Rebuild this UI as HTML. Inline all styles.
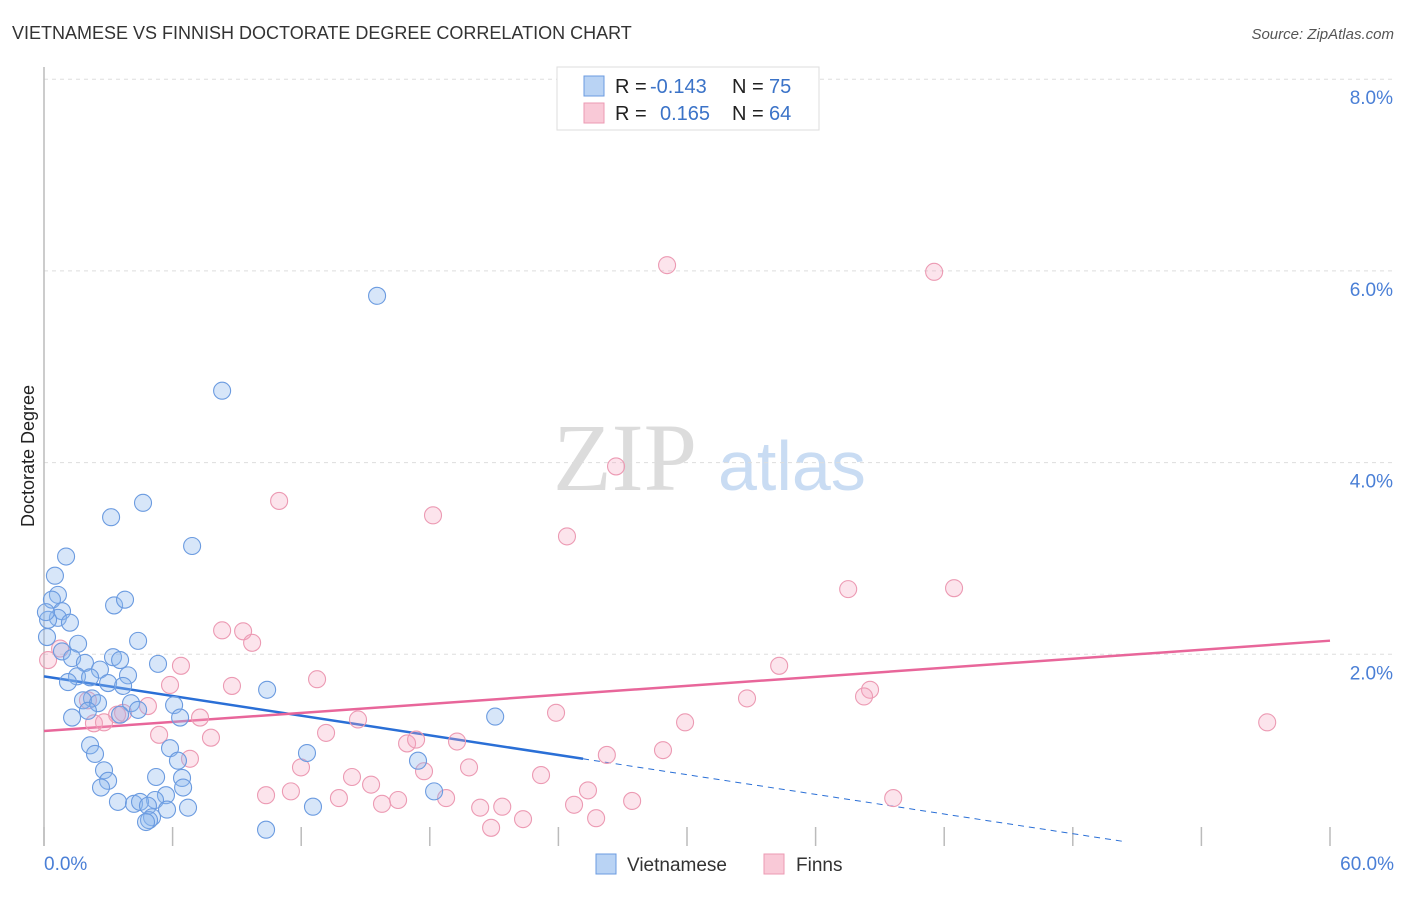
<!DOCTYPE html>
<html><head><meta charset="utf-8"><style>
body{margin:0;background:#fff;font-family:"Liberation Sans",sans-serif;}
</style></head><body>
<svg id="chart" width="1406" height="892" viewBox="0 0 1406 892" xmlns="http://www.w3.org/2000/svg">
<text x="12" y="39" font-size="18" fill="#333">VIETNAMESE VS FINNISH DOCTORATE DEGREE CORRELATION CHART</text>
<text x="1394" y="39" font-size="15" fill="#555" font-style="italic" text-anchor="end">Source: ZipAtlas.com</text>
<g>
<text x="553" y="490" font-size="96" font-family="Liberation Serif,serif" fill="#dcdcdc">ZIP</text>
<text x="718" y="490" font-size="70" fill="#c9dcf3">atlas</text>
</g>
<g id="grid"></g>
<line x1="44" y1="67" x2="44" y2="846" stroke="#bbb" stroke-width="1.5"/>
<text transform="translate(34,456) rotate(-90)" font-size="18" fill="#222" text-anchor="middle">Doctorate Degree</text>
<g id="ticks"></g>
<g id="trends"></g>
<g id="pts"></g>
<g>
<rect x="557" y="67" width="262" height="63" fill="#fff" stroke="#ddd"/>
<rect x="584" y="76" width="20" height="20" fill="#b9d3f4" stroke="#6b9be0"/>
<rect x="584" y="103" width="20" height="20" fill="#f9c9d7" stroke="#ec9ab3"/>
<text x="615" y="93" font-size="20" fill="#222">R =</text>
<text x="650" y="93" font-size="20" fill="#3b73c8">-0.143</text>
<text x="732" y="93" font-size="20" fill="#222">N =</text>
<text x="769" y="93" font-size="20" fill="#3b73c8">75</text>
<text x="615" y="120" font-size="20" fill="#222">R =</text>
<text x="660" y="120" font-size="20" fill="#3b73c8">0.165</text>
<text x="732" y="120" font-size="20" fill="#222">N =</text>
<text x="769" y="120" font-size="20" fill="#3b73c8">64</text>
</g>
<g>
<rect x="596" y="854" width="20" height="20" fill="#b9d3f4" stroke="#6b9be0"/>
<text x="627" y="871" font-size="19" fill="#333">Vietnamese</text>
<rect x="764" y="854" width="20" height="20" fill="#f9c9d7" stroke="#ec9ab3"/>
<text x="796" y="871" font-size="19" fill="#333">Finns</text>
</g>
</svg>
<script>
const xTicks=[0,6,12,18,24,30,36,42,48,54,60];
const yTicks=[2,4,6,8];
const xLabels=["0.0%","60.0%"];
const blueX=[15.54,8.31,4.62,3.13,6.91,1.03,0.51,0.65,0.37,0.84,3.27,3.78,0.65,0.19,1.21,0.14,4.39,1.59,0.84,1.31,1.91,3.22,3.55,5.32,2.61,3.92,1.54,2.15,1.12,2.99,3.69,10.41,2.24,1.82,2.52,4.06,6.07,2.05,4.39,1.31,6.35,21.05,3.55,2.15,5.88,2.38,12.27,17.45,6.25,2.80,5.23,6.44,2.99,2.66,6.49,18.20,5.69,5.18,3.45,4.20,4.48,4.85,6.72,12.55,5.74,5.04,4.90,4.76,10.36,0.09];
const blueY=[5.74,4.75,3.58,3.43,3.13,3.02,2.82,2.62,2.57,2.45,2.51,2.57,2.38,2.36,2.33,2.18,2.14,2.11,2.03,1.96,1.91,1.97,1.94,1.90,1.84,1.78,1.77,1.76,1.71,1.70,1.67,1.63,1.54,1.52,1.49,1.49,1.47,1.41,1.42,1.34,1.34,1.35,1.37,1.05,1.02,0.96,0.97,0.89,0.89,0.79,0.72,0.71,0.68,0.61,0.61,0.57,0.53,0.48,0.46,0.44,0.46,0.42,0.40,0.41,0.38,0.30,0.27,0.25,0.17,2.44];
const pinkX=[29.07,41.53,26.69,10.97,18.15,24.40,37.52,42.46,8.31,9.29,9.71,0.75,0.19,6.39,34.30,12.74,5.88,8.77,38.54,38.26,32.80,4.85,23.89,3.41,14.65,7.28,29.91,57.07,2.33,2.80,5.37,13.16,7.79,16.94,17.36,19.27,28.88,26.26,6.81,11.99,19.83,17.73,23.19,14.37,15.26,25.38,11.52,10.36,13.76,18.76,16.52,27.44,39.62,15.77,24.73,20.35,21.38,25.76,22.35,20.86,2.05,3.69];
const pinkY=[6.06,5.99,3.96,3.60,3.45,3.23,2.68,2.69,2.25,2.24,2.12,2.06,1.94,1.88,1.88,1.74,1.68,1.67,1.63,1.56,1.54,1.46,1.39,1.37,1.32,1.34,1.29,1.29,1.28,1.29,1.16,1.18,1.13,1.07,1.11,1.09,1.00,0.95,0.91,0.82,0.82,0.78,0.74,0.72,0.64,0.58,0.57,0.53,0.50,0.50,0.48,0.47,0.50,0.44,0.43,0.40,0.41,0.29,0.28,0.19,1.52,1.39];
const blueTrend=[1.77,-0.0342];
const pinkTrend=[1.20,0.0157];
const NS="http://www.w3.org/2000/svg";
const X=v=>44+v/60*1286, Y=v=>846-v*95.85;
function mk(t,a,p){const e=document.createElementNS(NS,t);for(const k in a)e.setAttribute(k,a[k]);document.getElementById(p).appendChild(e);return e;}
yTicks.forEach(t=>{
 const l=mk('line',{x1:44,x2:1394,y1:Y(t),y2:Y(t),stroke:'#ddd','stroke-dasharray':'4,4'},'grid');
 
 
 const tx=mk('text',{x:1393,y:Y(t)+25,'font-size':19,fill:'#4a7fd6','text-anchor':'end'},'grid');
 tx.textContent=t.toFixed(1)+'%';
 
 
});
xTicks.forEach(t=>{
 const l=mk('line',{x1:X(t),x2:X(t),y1:827,y2:846,stroke:'#bbb','stroke-width':1.5},'ticks');
 
 
});
[[0,xLabels[0],'start',44],[60,xLabels[1],'end',1394]].forEach(d=>{
 const tx=mk('text',{x:d[3],y:870,'font-size':19,fill:'#4a7fd6','text-anchor':d[2]},'ticks');
 tx.textContent=d[1];
 
 
});
function pts(xs,ys,fill,stroke,name){xs.forEach((x,i)=>{
 const c=mk('circle',{cx:X(x),cy:Y(ys[i]),r:8.5,fill:fill,stroke:stroke,'stroke-width':1.1},'pts');
 
 
});}
pts(pinkX,pinkY,'rgba(245,165,192,0.3)','#ec9ab3','finns-point');
pts(blueX,blueY,'rgba(140,182,238,0.35)','#6b9be0','vietnamese-point');
const bt=v=>blueTrend[0]+blueTrend[1]*v, pt=v=>pinkTrend[0]+pinkTrend[1]*v;
let l=mk('line',{x1:X(0),y1:Y(bt(0)),x2:X(25.15),y2:Y(bt(25.15)),stroke:'#2a6fd6','stroke-width':2.5},'trends');


l=mk('line',{x1:X(25.15),y1:Y(bt(25.15)),x2:X(50.5),y2:Y(bt(50.5)),stroke:'#2a6fd6','stroke-width':1,'stroke-dasharray':'6,5'},'trends');


l=mk('line',{x1:X(0),y1:Y(pt(0)),x2:X(60),y2:Y(pt(60)),stroke:'#e8669a','stroke-width':2.5},'trends');


</script>
</body></html>
